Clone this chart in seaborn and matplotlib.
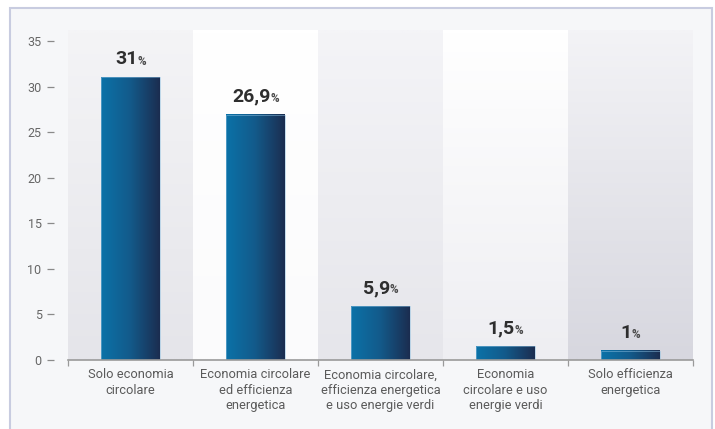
import numpy as np
import pandas as pd
import matplotlib
matplotlib.use("Agg")
import matplotlib.pyplot as plt
from matplotlib.colors import LinearSegmentedColormap, to_rgb
from matplotlib.patches import Rectangle
import seaborn as sns

# Data
categories = [
    "Solo economia\ncircolare",
    "Economia circolare\ned efficienza\nenergetica",
    "Economia circolare,\nefficienza energetica\ne uso energie verdi",
    "Economia\ncircolare e uso\nenergie verdi",
    "Solo efficienza\nenergetica",
]
values = [31, 26.9, 5.9, 1.5, 1]
value_labels = ["31", "26,9", "5,9", "1,5", "1"]
yticks = [0, 5, 10, 15, 20, 25, 30, 35]

sns.set_style("white")
plt.rcParams["font.family"] = ["Roboto", "DejaVu Sans"]

W, H = 715, 429
fig = plt.figure(figsize=(W / 100, H / 100), dpi=100, facecolor="white")

# Framed card behind the chart
fig.patches.append(Rectangle((10 / W, -0.05), 702 / W, (H - 8) / H + 0.05,
                             transform=fig.transFigure, facecolor="#f6f7f9",
                             edgecolor="#c8cce0", lw=1.5, zorder=-5))

ax = fig.add_axes([68 / W, (H - 360) / H, 625 / W, 330 / H])
ax.set_facecolor("none")

df = pd.DataFrame({"cat": categories, "val": values})
sns.barplot(data=df, x="cat", y="val", width=0.47, color="#125a88",
            ax=ax, zorder=3)

ytop = 36.2
ax.set_ylim(0, ytop)
ax.set_xlim(-0.5, len(categories) - 0.5)

# Soft shaded column backgrounds
panel_cols = [
    ("#f4f4f6", "#e5e5ea"),
    ("#ffffff", "#fbfbfc"),
    ("#f4f4f7", "#e6e6eb"),
    ("#ffffff", "#eeeef2"),
    ("#f3f3f6", "#d7d7df"),
]
for i, (top, bot) in enumerate(panel_cols):
    t = np.linspace(0, 1, 64)[:, None]
    c0, c1 = np.array(to_rgb(top)), np.array(to_rgb(bot))
    img = (c0 * (1 - t) + c1 * t)[:, None, :]
    ax.imshow(img, extent=[i - 0.5, i + 0.5, 0, ytop], origin="upper",
              aspect="auto", zorder=0, interpolation="bilinear")

# Horizontal gradient fill for each bar
bar_cmap = LinearSegmentedColormap.from_list("bar", ["#0b72a8", "#135a8a", "#1b2d50"])
grad = np.linspace(0, 1, 128)[None, :]
for p in list(ax.patches):
    x0, w, h = p.get_x(), p.get_width(), p.get_height()
    ax.imshow(grad, cmap=bar_cmap, extent=[x0, x0 + w, 0, h], aspect="auto",
              zorder=3, interpolation="bilinear")
    p.set_facecolor("none")
    p.set_edgecolor((0.55, 0.75, 0.88, 0.7))
    p.set_linewidth(0.5)
    p.set_zorder(3.5)
ax.set_xlim(-0.5, len(categories) - 0.5)
ax.set_ylim(0, ytop)

# Value labels: bold number plus smaller percent sign
fig.canvas.draw()
renderer = fig.canvas.get_renderer()
shift = 72 / fig.dpi
for p, lab in zip(ax.patches, value_labels):
    cx = p.get_x() + p.get_width() / 2
    top = p.get_height()
    t1 = ax.annotate(lab, (cx, top), xytext=(0, 6.5), textcoords="offset points",
                     ha="center", va="bottom", fontsize=14, fontweight="bold",
                     color="#2e2e2e", zorder=5)
    t2 = ax.annotate("%", (cx, top), xytext=(0, 6.5), textcoords="offset points",
                     ha="left", va="bottom", fontsize=8.5, fontweight="bold",
                     color="#4a4a4a", zorder=5)
    w1 = t1.get_window_extent(renderer).width
    w2 = t2.get_window_extent(renderer).width
    t1.xyann = (-w2 / 2 * shift, 6.5)
    t2.xyann = ((w1 / 2 - w2 / 2) * shift, 7.0)

# Axes styling
for s in ["top", "right"]:
    ax.spines[s].set_visible(False)
ax.spines["left"].set_position(("outward", 10))
ax.spines["left"].set_visible(False)
ax.spines["bottom"].set_color("#9a9a9a")
ax.spines["bottom"].set_linewidth(1.2)
ax.spines["bottom"].set_zorder(4)

ax.set_yticks(yticks)
ax.set_yticklabels([str(v) for v in yticks])
ax.tick_params(axis="y", left=True, length=5, width=0.9, color="#8a8a8a",
               pad=4, labelsize=9, labelcolor="#666666")

ax.set_xticks(range(len(categories)))
ax.set_xticklabels(categories, fontsize=9.3, color="#5a5a5a", linespacing=1.22)
ax.set_xticks(np.arange(-0.5, len(categories)), minor=True)
ax.tick_params(axis="x", which="major", length=0, pad=6)
ax.tick_params(axis="x", which="minor", bottom=True, length=4, width=0.9,
               color="#9a9a9a")
ax.set_xlabel("")
ax.set_ylabel("")

fig.savefig("out.png", dpi=100, facecolor="white")
